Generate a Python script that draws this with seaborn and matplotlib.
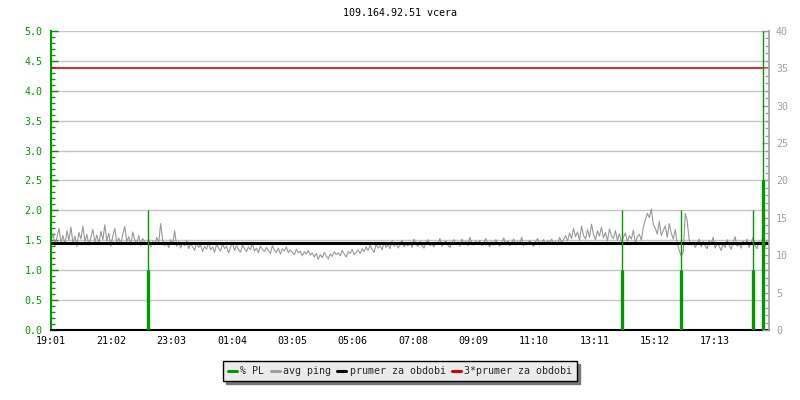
import matplotlib
matplotlib.use("Agg")
import matplotlib.pyplot as plt
from matplotlib.ticker import MultipleLocator, FormatStrFormatter
from matplotlib.lines import Line2D
import seaborn as sns
import numpy as np
import pandas as pd

# ---- data ----
title = "109.164.92.51 vcera"
tick_minutes = [0, 121, 242, 363, 484, 605, 727, 848, 969, 1090, 1211, 1332]
tick_labels = ["19:01", "21:02", "23:03", "01:04", "03:05", "05:06",
               "07:08", "09:09", "11:10", "13:11", "15:12", "17:13"]

# avg ping (left axis), one sample every 4 minutes from 19:01
ping = [
    1.48, 1.62, 1.41, 1.55, 1.70, 1.46, 1.58, 1.43, 1.66, 1.50, 1.72, 1.45,
    1.57, 1.40, 1.63, 1.52, 1.74, 1.48, 1.60, 1.42, 1.55, 1.68, 1.47, 1.59,
    1.44, 1.65, 1.51, 1.76, 1.49, 1.62, 1.40, 1.57, 1.70, 1.46, 1.54, 1.43,
    1.61, 1.73, 1.48, 1.56, 1.42, 1.64, 1.50, 1.45, 1.58, 1.41, 1.53, 1.47,
    1.44, 1.52, 1.39, 1.49, 1.42, 1.55, 1.46, 1.78, 1.50, 1.41, 1.47, 1.38,
    1.51, 1.43, 1.66, 1.40, 1.48, 1.37, 1.45, 1.41, 1.50, 1.36, 1.44, 1.39,
    1.33, 1.46, 1.38, 1.42, 1.31, 1.40, 1.35, 1.47, 1.34, 1.39, 1.30, 1.43,
    1.37, 1.32, 1.44, 1.36, 1.40, 1.29, 1.38, 1.46, 1.33, 1.41, 1.35, 1.30,
    1.42, 1.36, 1.31, 1.39, 1.34, 1.45, 1.32, 1.37, 1.29, 1.40, 1.35, 1.31,
    1.38, 1.33, 1.28, 1.41, 1.34, 1.30, 1.37, 1.27, 1.36, 1.32, 1.39, 1.29,
    1.34, 1.30, 1.26, 1.35, 1.29, 1.32, 1.24, 1.31, 1.27, 1.33, 1.25, 1.29,
    1.22, 1.28, 1.18, 1.26, 1.21, 1.30, 1.24, 1.19, 1.27, 1.23, 1.31, 1.26,
    1.29, 1.24, 1.33, 1.27, 1.22, 1.31, 1.28, 1.35, 1.26, 1.30, 1.34, 1.28,
    1.36, 1.31, 1.39, 1.33, 1.42, 1.35, 1.30, 1.44, 1.37, 1.41, 1.34, 1.47,
    1.38, 1.43, 1.36, 1.49, 1.40, 1.45, 1.37, 1.42, 1.50, 1.39, 1.44, 1.41,
    1.47, 1.38, 1.52, 1.43, 1.40, 1.48, 1.42, 1.37, 1.46, 1.51, 1.41, 1.44,
    1.39, 1.47, 1.43, 1.53, 1.40, 1.45, 1.49, 1.42, 1.38, 1.46, 1.51, 1.43,
    1.47, 1.40, 1.52, 1.44, 1.48, 1.41, 1.55, 1.45, 1.42, 1.49, 1.43, 1.50,
    1.41, 1.46, 1.53, 1.44, 1.39, 1.48, 1.42, 1.51, 1.45, 1.40, 1.47, 1.54,
    1.43, 1.49, 1.41, 1.46, 1.52, 1.42, 1.48, 1.44, 1.55, 1.41, 1.47, 1.43,
    1.50, 1.44, 1.40, 1.48, 1.53, 1.42, 1.46, 1.51, 1.43, 1.49, 1.45, 1.52,
    1.44, 1.48, 1.42, 1.55, 1.47, 1.51, 1.58, 1.49, 1.62, 1.53, 1.70, 1.56,
    1.64, 1.50, 1.74, 1.58, 1.52, 1.68, 1.55, 1.77, 1.60, 1.51, 1.66, 1.57,
    1.72, 1.54, 1.63, 1.49, 1.69, 1.58, 1.53, 1.66, 1.50, 1.61, 1.47, 1.55,
    1.62, 1.48, 1.58, 1.52, 1.67, 1.45, 1.56, 1.60, 1.50, 1.73, 1.84, 1.95,
    1.88, 2.02, 1.76, 1.70, 1.60, 1.82, 1.58, 1.66, 1.74, 1.55, 1.78, 1.62,
    1.52, 1.68, 1.45, 1.33, 1.24, 1.30, 1.95, 1.82, 1.50, 1.42, 1.47, 1.38,
    1.45, 1.52, 1.39, 1.48, 1.41, 1.36, 1.50, 1.43, 1.55, 1.37, 1.46, 1.40,
    1.33, 1.44, 1.38, 1.51, 1.42, 1.35, 1.47, 1.56, 1.40, 1.45, 1.37, 1.49,
    1.43, 1.52, 1.38, 1.46, 1.55, 1.41, 1.36, 1.48, 1.42, 1.58, 1.39, 1.50,
]
ping_step_min = 4

# packet loss events (right axis): minute offset, average %, max %
pl_minutes = [194, 1146, 1264, 1408, 1428]
pl_avg = [8, 8, 8, 8, 20]
pl_max = [16, 16, 16, 16, 40]

mean_ping = 1.46
triple_mean = 4.38

# ---- styling ----
sns.set_theme(style="white")
plt.rcParams["font.family"] = ["DejaVu Sans Mono"]
plt.rcParams["font.size"] = 7

GREEN = "#009a00"
GRAY = "#999999"
RGRAY = "#a0a0a0"
GRID = "#c4c4c4"
FS = 7.2

fig = plt.figure(figsize=(8, 4), dpi=100)
ax = fig.add_axes([51 / 800, 1 - 330 / 400, (769 - 51) / 800, (330 - 31) / 400])
ax2 = ax.twinx()

df = pd.DataFrame({"minute": np.arange(len(ping)) * ping_step_min, "ping": ping})

ax.set_ylim(0, 5)
ax.set_xlim(0, 1440)
ax2.set_ylim(0, 40)
for yv in np.arange(0.5, 5.01, 0.5):
    ax.axhline(yv, color=GRID, lw=1.0, zorder=0)

sns.lineplot(data=df, x="minute", y="ping", ax=ax, color=GRAY, lw=0.8, zorder=2)
ax.axhline(mean_ping, color="black", lw=2.2, zorder=3)
ax.axhline(triple_mean, color="#dd0000", lw=1.2, zorder=3)

# PL on right axis
ax2.vlines(pl_minutes, 0, pl_max, color=GREEN, lw=1.0, zorder=4)
ax2.vlines(pl_minutes, 0, pl_avg, color=GREEN, lw=2.4, zorder=4)

ax.set_xlabel("")
ax.set_ylabel("")
ax.set_xticks(tick_minutes)
ax.set_xticklabels(tick_labels, color="black")
ax.tick_params(axis="x", direction="in", length=5, width=1, color="black",
               labelsize=FS, pad=4)
ax.yaxis.set_major_locator(MultipleLocator(0.5))
ax.yaxis.set_minor_locator(MultipleLocator(0.1))
ax.yaxis.set_major_formatter(FormatStrFormatter("%.1f"))
ax.tick_params(axis="y", which="major", direction="in", length=5, width=1,
               color=GREEN, labelcolor=GREEN, labelsize=FS, pad=6)
ax.tick_params(axis="y", which="minor", direction="in", length=3, width=1, color=GREEN)

ax2.yaxis.set_major_locator(MultipleLocator(5))
ax2.yaxis.set_minor_locator(MultipleLocator(1))
ax2.tick_params(axis="y", which="major", direction="in", length=5, width=1,
                color=RGRAY, labelcolor=RGRAY, labelsize=FS, pad=5)
ax2.tick_params(axis="y", which="minor", direction="in", length=3, width=1, color=RGRAY)
ax2.set_ylabel("")

for a in (ax, ax2):
    a.spines["top"].set_visible(False)
ax.spines["left"].set_color(GREEN)
ax.spines["left"].set_linewidth(1.5)
ax.spines["bottom"].set_color("black")
ax.spines["bottom"].set_linewidth(1.5)
ax.spines["right"].set_visible(False)
ax2.spines["left"].set_visible(False)
ax2.spines["bottom"].set_visible(False)
ax2.spines["right"].set_color(RGRAY)
ax2.spines["right"].set_linewidth(1.2)

fig.text(0.5, 1 - 13 / 400, title, ha="center", va="center", fontsize=FS, color="black")

handles = [
    Line2D([], [], color=GREEN, lw=2.2),
    Line2D([], [], color=RGRAY, lw=2.2),
    Line2D([], [], color="black", lw=2.2),
    Line2D([], [], color="#dd0000", lw=2.2),
]
labels = ["% PL", "avg ping", "prumer za obdobi", "3*prumer za obdobi"]
leg = fig.legend(handles, labels, loc="center", bbox_to_anchor=(0.5, 1 - 371 / 400),
                 ncol=4, frameon=True, fancybox=False,
                 shadow={"color": "#777777", "alpha": 1},
                 handlelength=0.9, handletextpad=0.35, columnspacing=0.6,
                 borderpad=0.5, fontsize=FS, borderaxespad=0)
leg.get_frame().set_facecolor("#ebebeb")
leg.get_frame().set_edgecolor("black")
leg.get_frame().set_linewidth(1.0)
leg.get_frame().set_alpha(1)

fig.savefig("out.png", dpi=100)
